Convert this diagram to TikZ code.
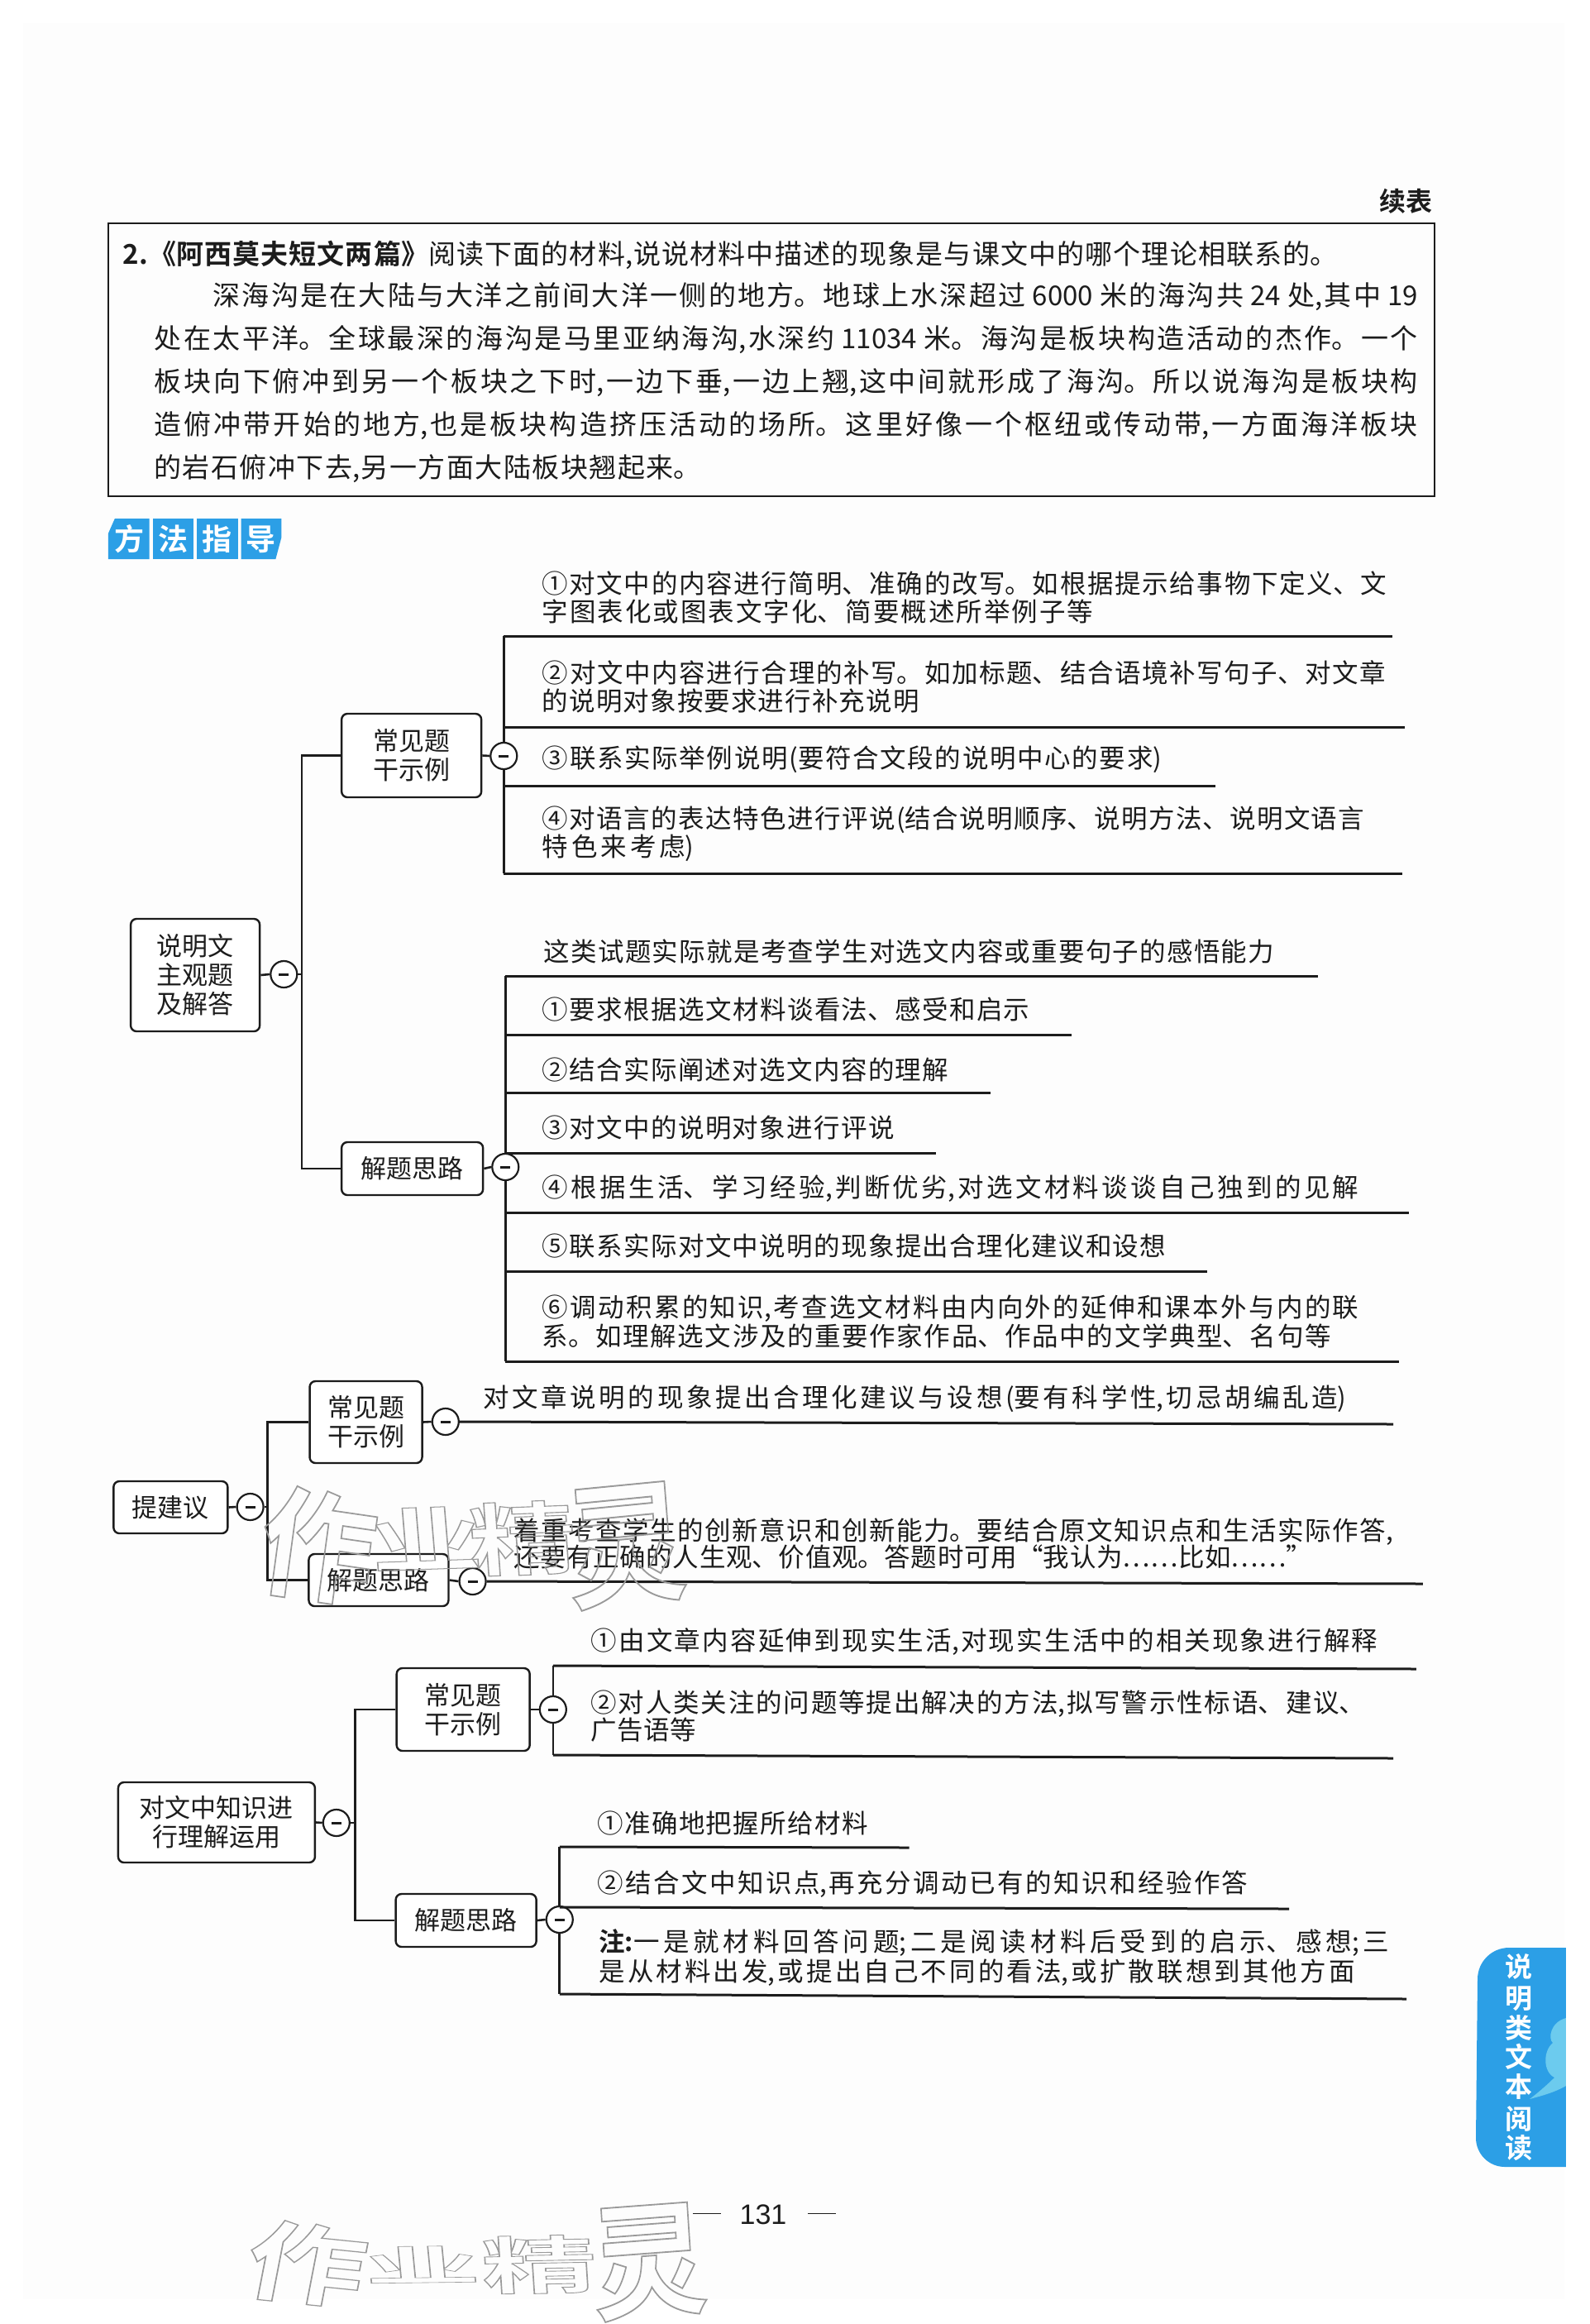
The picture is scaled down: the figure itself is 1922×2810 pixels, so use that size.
\documentclass[tikz,border=0pt]{standalone}
\usepackage{fontspec}
\setmainfont{Noto Sans CJK SC}
\newfontfamily\cjk{Noto Sans CJK SC}
\newfontfamily\cjkb[BoldFont={Noto Sans CJK SC Bold}]{Noto Sans CJK SC}
\newfontfamily\pagenum{Liberation Sans}
\XeTeXlinebreaklocale "zh"
\XeTeXlinebreakskip=0pt plus 10pt
\definecolor{ink}{HTML}{1C1C1C}
\definecolor{tabblue}{HTML}{2C9FE6}
\definecolor{cloudblue}{HTML}{6CCBEE}
\definecolor{markgray}{HTML}{9A9A9A}
\definecolor{paper}{HTML}{FDFDFD}
% one paragraph: full width, width of its last line, baseline step, text
\newcommand\fp[4]{\parbox{0.9925\dimexpr #1pt\relax}{\baselineskip=#3pt\lineskiplimit=-100pt\parindent=0pt\parfillskip=0.9925\dimexpr #1pt-#2pt\relax\tolerance=10000\hbadness=10000\hfuzz=5pt\emergencystretch=0pt\rightskip=0pt #4}}
\newcommand\hl[5]{\coordinate (#1a) at (#2,#3);\coordinate (#1b) at (#4,#5);\draw[ruleline] (#1a) -- (#1b);}
\tikzset{
  x=1pt,y=-1pt,
  txtblock/.style={inner sep=0pt,outer sep=0pt,text=ink,font=\cjk\fontsize{31.5}{34}\selectfont},
  bodyblock/.style={inner sep=0pt,outer sep=0pt,text=ink,font=\cjk\fontsize{33}{52}\selectfont},
  boxst/.style={draw=ink,line width=2.4pt,rounded corners=7pt,fill=white,inner sep=0pt,align=center,text=ink,font=\cjk\fontsize{31}{35}\selectfont},
  knob/.style={circle,draw=ink,line width=2.2pt,fill=white,minimum size=32pt,inner sep=0pt,
    path picture={\draw[ink,line width=3pt] ([xshift=-6pt]path picture bounding box.center) -- ([xshift=6pt]path picture bounding box.center);}},
  conn/.style={draw=ink,line width=2.6pt},
  ruleline/.style={draw=ink,line width=3pt},
  chip/.style={fill=tabblue,draw=none},
  chiptext/.style={inner sep=0pt,text=white,font=\cjkb\bfseries\fontsize{36}{36}\selectfont},
  tabtext/.style={inner sep=0pt,text=white,font=\cjkb\bfseries\fontsize{33}{33}\selectfont},
  markch/.style={inner sep=0pt,text=markgray,font=\cjkb\bfseries\fontsize{100}{100}\selectfont},
}
\newcommand\outl[1]{\special{pdf:code q 1 Tr 1.2 w}#1\special{pdf:code Q}}
\begin{document}
\begin{tikzpicture}
\useasboundingbox (0,0) rectangle (1922,2810);
\fill[white] (0,0) rectangle (1922,2810);
\fill[paper] (28,28) rectangle (1892,2780);

\begin{scope}[x=0.9925pt,shift={(0.9pt,0pt)}]
% heading and passage
\node[inner sep=0pt,text=ink,font=\cjkb\bfseries\fontsize{32}{32}\selectfont] (xubiao) at (1712,243) {续表};
\draw[draw=ink,line width=2.4pt] (131,270) rectangle (1747,600);
\node[bodyblock,anchor=center] (q1) at (889,308) {\fp{1480}{1480}{52}{{\cjkb\bfseries 2.《阿西莫夫短文两篇》}阅读下面的材料,说说材料中描述的现象是与课文中的哪个理论相联系的。}};
\node[bodyblock,anchor=center] (q2) at (957,463) {\fp{1540}{666}{52}{\hspace*{71pt}深海沟是在大陆与大洋之前间大洋一侧的地方。地球上水深超过 6000 米的海沟共 24 处,其中 19\break
处在太平洋。全球最深的海沟是马里亚纳海沟,水深约 11034 米。海沟是板块构造活动的杰作。一个\break
板块向下俯冲到另一个板块之下时,一边下垂,一边上翘,这中间就形成了海沟。所以说海沟是板块构\break
造俯冲带开始的地方,也是板块构造挤压活动的场所。这里好像一个枢纽或传动带,一方面海洋板块\break
的岩石俯冲下去,另一方面大陆板块翘起来。}};

% method chips
\fill[chip] (139,627) -- (181,627) -- (181,676) -- (131,676) -- (131,645) -- cycle;
\fill[chip] (185,627) rectangle (235,676);
\fill[chip] (239,627) rectangle (289,676);
\fill[chip] (293,627) -- (342,627) -- (342,650) -- (335,676) -- (293,676) -- cycle;
\node[chiptext] (c1) at (157,652) {方};
\node[chiptext] (c2) at (210,652) {法};
\node[chiptext] (c3) at (264,652) {指};
\node[chiptext] (c4) at (317,652) {导};

% group 1: explanatory text
\node[boxst,minimum width=156pt,minimum height=136pt] (m1) at (237,1179) {说明文\\主观题\\及解答};
\node[knob] (k1) at (345,1178) {};
\node[boxst,minimum width=169pt,minimum height=101pt] (a1) at (500.5,913.5) {常见题\\干示例};
\node[knob] (ka1) at (613,914) {};
\node[boxst,minimum width=171pt,minimum height=64pt] (a2) at (501.5,1413) {解题思路};
\node[knob] (ka2) at (615,1411) {};
\coordinate (t1) at (367,1178);
\draw[conn] (m1.east) -- (k1.west);
\draw[conn] (k1.east) -- (t1);
\draw[conn] (a1.west) -| (t1) |- (a2.west);
\draw[conn] (a1.east) -- (ka1.west);
\draw[conn] (a2.east) -- (ka2.west);

\coordinate (s1t) at (613,769);\coordinate (s1b) at (613,1056);
\draw[conn] (s1t) -- (ka1.north);\draw[conn] (ka1.south) -- (s1b);
\hl{r1}{613}{769}{1696}{769}
\hl{r2}{613}{879}{1711}{879}
\hl{r3}{613}{950}{1480}{950}
\hl{r4}{613}{1056}{1708}{1056}
\node[txtblock] (p1) at (1174,722) {\fp{1029}{672}{34}{①对文中的内容进行简明、准确的改写。如根据提示给事物下定义、文\break 字图表化或图表文字化、简要概述所举例子等}};
\node[txtblock] (p2) at (1174,830) {\fp{1028}{459}{34}{②对文中内容进行合理的补写。如加标题、结合语境补写句子、对文章\break 的说明对象按要求进行补充说明}};
\node[txtblock] (p3) at (1037.5,918) {\fp{755}{755}{34}{③联系实际举例说明(要符合文段的说明中心的要求)}};
\node[txtblock] (p4) at (1161,1008) {\fp{1002}{185}{34}{④对语言的表达特色进行评说(结合说明顺序、说明方法、说明文语言\break 特色来考虑)}};

\coordinate (s2t) at (615,1180);\coordinate (s2b) at (615,1646);
\draw[conn] (s2t) -- (ka2.north);\draw[conn] (ka2.south) -- (s2b);
\hl{r5}{615}{1180}{1605}{1180}
\hl{r6}{615}{1251}{1305}{1251}
\hl{r7}{615}{1321}{1206}{1321}
\hl{r8}{615}{1394}{1140}{1394}
\hl{r9}{615}{1466}{1716}{1466}
\hl{r10}{615}{1537}{1470}{1537}
\hl{r11}{615}{1646}{1704}{1646}
\node[txtblock] (p5) at (1107,1150) {\fp{890}{890}{34}{这类试题实际就是考查学生对选文内容或重要句子的感悟能力}};
\node[txtblock] (p6) at (957,1220) {\fp{594}{594}{34}{①要求根据选文材料谈看法、感受和启示}};
\node[txtblock] (p7) at (907.5,1293) {\fp{495}{495}{34}{②结合实际阐述对选文内容的理解}};
\node[txtblock] (p8) at (874.5,1364) {\fp{429}{429}{34}{③对文中的说明对象进行评说}};
\node[txtblock] (p9) at (1157.5,1437) {\fp{995}{995}{34}{④根据生活、学习经验,判断优劣,对选文材料谈谈自己独到的见解}};
\node[txtblock] (p10) at (1040,1507) {\fp{760}{760}{34}{⑤联系实际对文中说明的现象提出合理化建议和设想}};
\node[txtblock] (p11) at (1157.5,1598) {\fp{995}{961}{35}{⑥调动积累的知识,考查选文材料由内向外的延伸和课本外与内的联\break 系。如理解选文涉及的重要作家作品、作品中的文学典型、名句等}};

% group 2: suggestions
\node[boxst,minimum width=138pt,minimum height=63pt] (m2) at (207,1822.5) {提建议};
\node[knob] (k2) at (304,1822) {};
\node[boxst,minimum width=136pt,minimum height=99pt] (b1) at (445,1719.5) {常见题\\干示例};
\node[knob] (kb1) at (542,1719) {};
\node[boxst,minimum width=169pt,minimum height=63pt] (b2) at (460.5,1910.5) {解题思路};
\node[knob] (kb2) at (575,1912) {};
\coordinate (t2) at (325,1822);
\draw[conn] (m2.east) -- (k2.west);
\draw[conn] (k2.east) -- (t2);
\draw[conn] (b1.west) -| (t2) |- (b2.west);
\draw[conn] (b1.east) -- (kb1.west);
\draw[conn] (b2.east) -- (kb2.west);
\coordinate (h1e) at (1697,1722);
\coordinate (h2e) at (1733,1915);
\draw[ruleline] (kb1.east) -- (h1e);
\draw[ruleline] (kb2.east) -- (h2e);
\node[txtblock] (p12) at (1114,1691) {\fp{1052}{1052}{34}{对文章说明的现象提出合理化建议与设想(要有科学性,切忌胡编乱造)}};
\node[txtblock] (p13) at (1161,1866) {\fp{1072}{973}{32}{着重考查学生的创新意识和创新能力。要结合原文知识点和生活实际作答,\break 还要有正确的人生观、价值观。答题时可用“我认为……比如……”}};

% group 3: applying knowledge
\node[boxst,minimum width=238pt,minimum height=97pt] (m3) at (263,2203.5) {对文中知识进\\行理解运用};
\node[knob] (k3) at (409,2204) {};
\node[boxst,minimum width=161pt,minimum height=100pt] (d1) at (563.5,2067) {常见题\\干示例};
\node[knob] (kd1) at (673,2067) {};
\node[boxst,minimum width=170pt,minimum height=64pt] (d2) at (567,2322) {解题思路};
\node[knob] (kd2) at (681,2321) {};
\coordinate (t3) at (432,2204);
\draw[conn] (m3.east) -- (k3.west);
\draw[conn] (k3.east) -- (t3);
\draw[conn] (d1.west) -| (t3) |- (d2.west);
\draw[conn] (d1.east) -- (kd1.west);
\draw[conn] (d2.east) -- (kd2.west);

\coordinate (s3t) at (673,2014);\coordinate (s3b) at (673,2122);
\draw[conn] (s3t) -- (kd1.north);\draw[conn] (kd1.south) -- (s3b);
\hl{r12}{673}{2014}{1725}{2018}
\hl{r13}{673}{2122}{1697}{2126}
\node[txtblock] (p14) at (1198.5,1985) {\fp{959}{959}{34}{①由文章内容延伸到现实生活,对现实生活中的相关现象进行解释}};
\node[txtblock] (p15) at (1191,2075) {\fp{944}{128}{33}{②对人类关注的问题等提出解决的方法,拟写警示性标语、建议、\break 广告语等}};

\coordinate (s4t) at (681,2233);\coordinate (s4b) at (681,2411);
\draw[conn] (s4t) -- (kd2.north);\draw[conn] (kd2.south) -- (s4b);
\hl{r14}{681}{2233}{1107}{2234}
\hl{r15}{681}{2306}{1570}{2308}
\hl{r16}{681}{2411}{1713}{2417}
\node[txtblock] (p16) at (892,2205) {\fp{330}{330}{34}{①准确地把握所给材料}};
\node[txtblock] (p17) at (1123.5,2278) {\fp{793}{793}{34}{②结合文中知识点,再充分调动已有的知识和经验作答}};
\node[txtblock] (p18) at (1210.5,2367) {\fp{963}{921}{36}{{\cjkb\bfseries 注:}一是就材料回答问题;二是阅读材料后受到的启示、感想;三\break 是从材料出发,或提出自己不同的看法,或扩散联想到其他方面}};
\end{scope}

% page number
\node[inner sep=0pt,text=ink,font=\pagenum\fontsize{34}{34}\selectfont] (pg) at (923,2678) {131};
\coordinate (d1a) at (838,2676);\coordinate (d1b) at (872,2676);
\coordinate (d2a) at (977,2676);\coordinate (d2b) at (1011,2676);
\draw[ink,line width=1pt] (d1a) -- (d1b);
\draw[ink,line width=1pt] (d2a) -- (d2b);

% side tab
\begin{scope}
\clip (1894,2355) -- (1825,2355) arc[start angle=90,end angle=180,radius=38pt] -- (1785,2585) arc[start angle=180,end angle=270,radius=35pt] -- (1894,2620) -- cycle;
\fill[tabblue] (1780,2350) rectangle (1894,2625);
\fill[cloudblue] (1894,2440) .. controls (1875,2445) and (1872,2465) .. (1878,2470) .. controls (1866,2480) and (1866,2505) .. (1880,2512) .. controls (1870,2522) and (1858,2532) .. (1850,2538) .. controls (1865,2534) and (1880,2530) .. (1894,2522) -- cycle;
\end{scope}
\foreach \n/\ch/\yy in {1/说/2378,2/明/2417,3/类/2452,4/文/2487,5/本/2523,6/阅/2562,7/读/2597}
  \node[tabtext] (tab\n) at (1837,\yy) {\ch};

% watermarks, printed over everything
\node[markch,xscale=1.4,yscale=1.45,rotate=-8] (w1a) at (385,1869) {\outl{作}};
\node[markch,xscale=1.35,yscale=.85,rotate=3] (w1b) at (515,1860) {\outl{业}};
\node[markch,xscale=1.3,yscale=.95,rotate=3] (w1c) at (632,1860) {\outl{精}};
\node[markch,xscale=1.45,yscale=1.6,rotate=5] (w1d) at (757,1869) {\outl{灵}};
\node[markch,xscale=1.45,yscale=1.05,rotate=-8] (w2a) at (371,2737) {\outl{作}};
\node[markch,xscale=1.4,yscale=.5,rotate=2] (w2b) at (510,2738) {\outl{业}};
\node[markch,xscale=1.4,yscale=.75,rotate=2] (w2c) at (652,2738) {\outl{精}};
\node[markch,xscale=1.4,yscale=1.5,rotate=4] (w2d) at (785,2735) {\outl{灵}};
\end{tikzpicture}
\end{document}
